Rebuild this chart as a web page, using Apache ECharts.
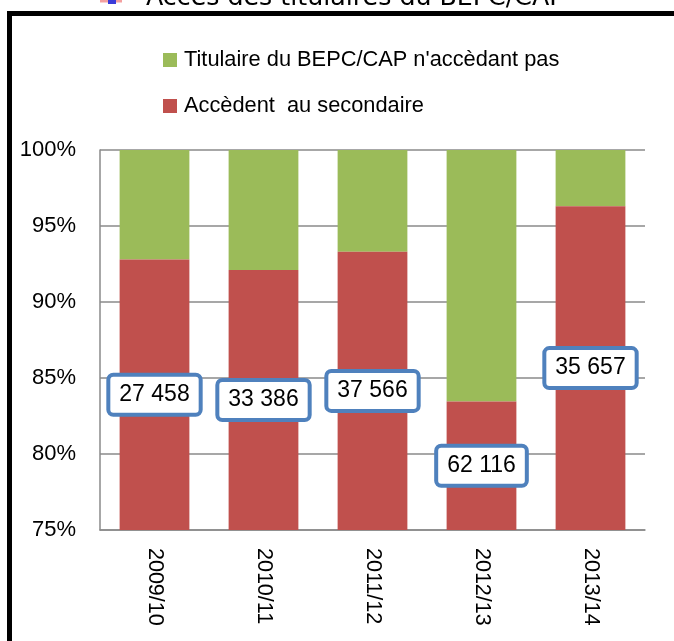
<!DOCTYPE html>
<html>
<head>
<meta charset="utf-8">
<script src="https://cdn.jsdelivr.net/npm/echarts@6/dist/echarts.min.js"></script>
<style>
  html, body { margin: 0; padding: 0; background: #fff; }
  #chart { width: 674px; height: 641px; }
</style>
</head>
<body>
<div id="chart"></div>
<script>
// School years
const years = ['2009/10', '2010/11', '2011/12', '2012/13', '2013/14'];
// Share of BEPC/CAP holders going on to secondary (%)
const accedentPct = [92.8, 92.1, 93.3, 83.45, 96.3];
// Share of holders not going on (%)
const nonAccedantPct = [7.2, 7.9, 6.7, 16.55, 3.7];
// Number of holders going on to secondary
const accedentEffectif = [27458, 33386, 37566, 62116, 35657];
// Value-axis ticks
const yMin = 75, yMax = 100, yStep = 5;

const seriesNames = ['Titulaire du BEPC/CAP n\'accèdant pas', 'Accèdent  au secondaire'];
const FONT = 'Liberation Sans, Arial, sans-serif';

function fmtSpace(n) {
  return String(n).replace(/\B(?=(\d{3})+(?!\d))/g, ' ');
}

const chart = echarts.init(document.getElementById('chart'), null, { renderer: 'canvas' });

chart.setOption({
  animation: false,
  backgroundColor: '#ffffff',
  grid: { left: 100, right: 29, top: 150, bottom: 111, containLabel: false },
  legend: {
    orient: 'vertical',
    left: 163,
    top: 49,
    padding: 0,
    itemWidth: 14,
    itemHeight: 14,
    itemGap: 24,
    icon: 'rect',
    data: [seriesNames[0], seriesNames[1]],
    textStyle: { fontFamily: FONT, fontSize: 21.8, color: '#000', padding: [0, 0, 0, 2] }
  },
  xAxis: {
    type: 'category',
    data: years,
    boundaryGap: true,
    axisLine: { show: true, lineStyle: { color: '#8a8a8a', width: 1.5 } },
    axisTick: { show: false },
    axisLabel: {
      rotate: -90,
      margin: 18,
      color: '#000',
      fontFamily: FONT,
      fontSize: 21.5
    }
  },
  yAxis: {
    type: 'value',
    min: yMin,
    max: yMax,
    interval: yStep,
    axisLine: { show: true, lineStyle: { color: '#8a8a8a', width: 1.5 } },
    axisTick: { show: false },
    splitLine: { show: true, lineStyle: { color: '#8a8a8a', width: 1.5 } },
    axisLabel: {
      margin: 24,
      color: '#000',
      fontFamily: FONT,
      fontSize: 22,
      formatter: '{value}%'
    }
  },
  series: [
    {
      name: seriesNames[1],
      type: 'bar',
      stack: 'total',
      barWidth: '64%',
      itemStyle: { color: '#c0504d' },
      data: accedentPct,
      z: 3,
      label: {
        show: true,
        position: 'inside',
        formatter: (p) => fmtSpace(accedentEffectif[p.dataIndex]),
        color: '#000',
        fontFamily: FONT,
        fontSize: 23,
        backgroundColor: '#ffffff',
        borderColor: '#4f81bd',
        borderWidth: 4,
        borderRadius: 3,
        padding: [7, 9, 6, 9]
      }
    },
    {
      name: seriesNames[0],
      type: 'bar',
      stack: 'total',
      barWidth: '64%',
      itemStyle: { color: '#9bbb59' },
      data: nonAccedantPct,
      z: 2
    }
  ],
  graphic: [
    // outer frame of the figure
    {
      type: 'rect',
      shape: { x: 9.5, y: 13.5, width: 720, height: 700 },
      style: { fill: 'none', stroke: '#000', lineWidth: 5 },
      silent: true
    },
    // heading of the chart above, cut by the page edge
    {
      type: 'line',
      shape: { x1: 100, y1: 1, x2: 122, y2: 1 },
      style: { stroke: '#f4a0a0', lineWidth: 3 },
      silent: true
    },
    {
      type: 'rect',
      shape: { x: 108, y: -4, width: 8, height: 8 },
      style: { fill: '#3b3bd8' },
      silent: true
    },
    {
      type: 'text',
      x: 146,
      y: 11,
      style: {
        text: 'Accès des titulaires du BEPC/CAP',
        fontFamily: 'DejaVu Sans, sans-serif',
        fontSize: 25.3,
        fill: '#000',
        verticalAlign: 'bottom'
      },
      silent: true
    }
  ]
});
</script>
</body>
</html>
